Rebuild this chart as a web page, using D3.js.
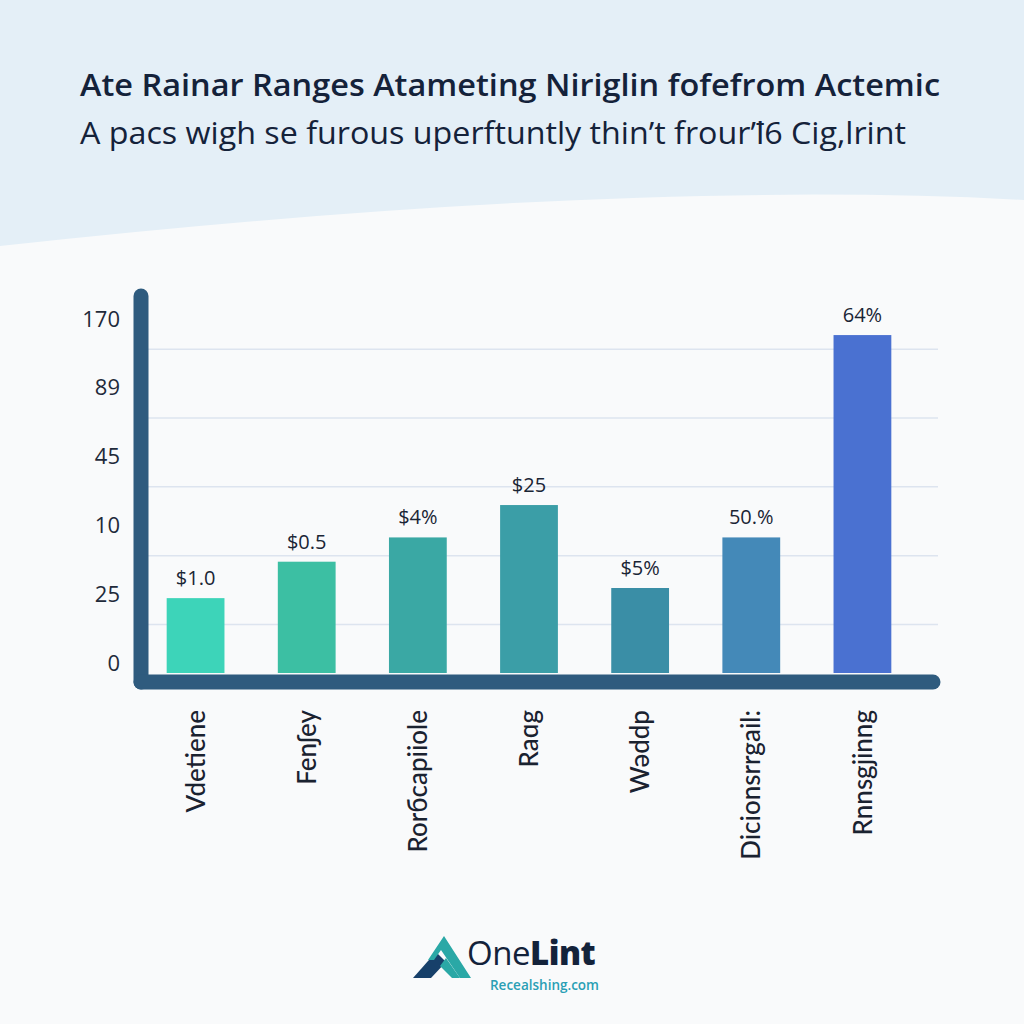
<!DOCTYPE html>
<html><head><meta charset="utf-8">
<script src="https://cdn.jsdelivr.net/npm/d3@7"></script>
<style>html,body{margin:0;padding:0;background:#f9fafb;}svg{display:block;}</style>
</head><body>
<svg id="c" width="1024" height="1024"></svg>
<script>
const categories = ["Vdetiene","Fenʃey","Rorбcapiiole","Raɑg","Wəddp","Dicionsrrgail:","Rnnsgjinng"];
const values = [37, 55, 67, 83, 42, 67, 167];
const valueLabels = ["$1.0","$0.5","$4%","$25","$5%","50.%","64%"];
const barColors = ["#3dd4b9","#3cbfa3","#3aa8a4","#3b9ea7","#3a8ea6","#4489b8","#4a71d1"];
const tickLabels = ["170","89","45","10","25","0"];
const tickValues = [175, 141, 107, 73, 39, 5];
const gridValues = [24, 58, 92, 126, 160];

const svg = d3.select("#c");
const font = "'Open Sans', 'Noto Sans', sans-serif";

// background
svg.append("rect").attr("width",1024).attr("height",1024).attr("fill","#f9fafb");
svg.append("path").attr("d","M0,0 H1024 V200 Q620,178 0,246 Z").attr("fill","#e4eff7");

// title
svg.append("text").attr("x",80).attr("y",96).attr("font-family",font).attr("font-weight",600)
  .attr("font-size",30).attr("fill","#14223a").attr("textLength",860).attr("lengthAdjust","spacingAndGlyphs")
  .text("Ate Rainar Ranges Atameting Niriglin fofefrom Actemic");
svg.append("text").attr("x",80).attr("y",144).attr("font-family",font).attr("font-weight",400)
  .attr("font-size",31).attr("fill","#14223a").attr("textLength",826).attr("lengthAdjust","spacingAndGlyphs")
  .text("A pacs wigh se furous uperftuntly thin’t frour’ꝉ6 Cig,lrint");

// scales
const x = d3.scaleBand().domain(categories).range([140, 918]).paddingInner(0.48).paddingOuter(0.24);
const y = d3.scaleLinear().domain([0, 170]).range([673, 329]);

// gridlines
svg.append("g").selectAll("line").data(gridValues).join("line")
  .attr("x1",148).attr("x2",938).attr("y1",d=>y(d)).attr("y2",d=>y(d))
  .attr("stroke","#dde4ef").attr("stroke-width",1.5);

// y tick labels
svg.append("g").selectAll("text").data(tickValues).join("text")
  .attr("x",120).attr("y",d=>y(d)).attr("dy","0.35em").attr("text-anchor","end")
  .attr("font-family",font).attr("font-size",22).attr("fill","#1f2a3a")
  .text((d,i)=>tickLabels[i]);

// bars
svg.append("g").selectAll("rect").data(values).join("rect")
  .attr("x",(d,i)=>x(categories[i])).attr("width",x.bandwidth())
  .attr("y",d=>y(d)).attr("height",d=>y(0)-y(d))
  .attr("fill",(d,i)=>barColors[i]);

// value labels
svg.append("g").selectAll("text").data(values).join("text")
  .attr("x",(d,i)=>x(categories[i])+x.bandwidth()/2).attr("y",d=>y(d)-13)
  .attr("text-anchor","middle").attr("font-family",font).attr("font-size",20).attr("fill","#1a2535")
  .text((d,i)=>valueLabels[i]);

// axes
svg.append("line").attr("x1",141).attr("x2",141).attr("y1",296).attr("y2",682)
  .attr("stroke","#2f5b7e").attr("stroke-width",15).attr("stroke-linecap","round");
svg.append("line").attr("x1",141).attr("x2",933).attr("y1",682).attr("y2",682)
  .attr("stroke","#2f5b7e").attr("stroke-width",15).attr("stroke-linecap","round");

// x labels rotated
svg.append("g").selectAll("text").data(categories).join("text")
  .attr("transform",d=>`translate(${x(d)+x.bandwidth()/2},710) rotate(-90)`)
  .attr("text-anchor","end").attr("dy","0.35em")
  .attr("font-family","Lato, 'Open Sans', sans-serif").attr("font-size",26).attr("font-weight",500).attr("fill","#1a2230")
  .text(d=>d);

// logo
const lg = svg.append("g");
lg.append("path").attr("d","M413,978 L436,952 L446,962 L431,978 Z").attr("fill","#17406a");
lg.append("path").attr("d","M428,960 L444,936 L471,978 L460,978 L441,950 L434,960 Z").attr("fill","#2aa8a6");
lg.append("path").attr("d","M440,966 L446,958 L460,978 L452,978 Z").attr("fill","#2aa8a6");
lg.append("text").attr("x",467).attr("y",965).attr("font-family","'Open Sans', sans-serif").attr("font-size",33)
  .attr("fill","#13223a").attr("letter-spacing",-0.5)
  .call(t=>{t.append("tspan").attr("font-weight",400).text("One");t.append("tspan").attr("font-weight",800).text("Lint");});
lg.append("text").attr("x",490).attr("y",990).attr("font-family","'Open Sans', sans-serif").attr("font-size",13.5)
  .attr("font-weight",600).attr("fill","#2a9fb5").text("Recealshing.com");
</script>
</body></html>
